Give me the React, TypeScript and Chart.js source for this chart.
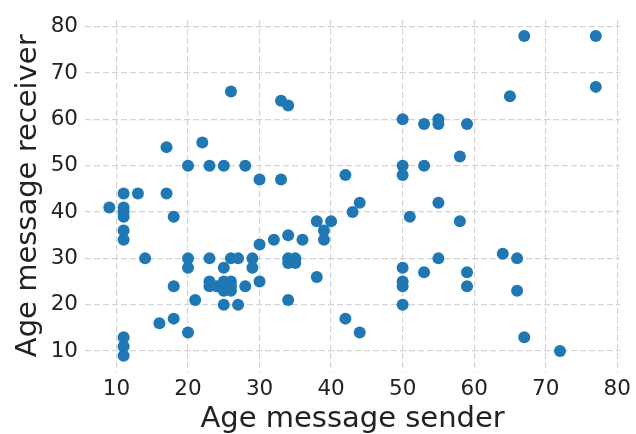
import React, { useEffect, useRef } from "react";
import { Chart, registerables } from "chart.js";

Chart.register(...registerables);

const senderAges: number[] = [
  9, 11, 11, 11, 11, 11, 11, 11, 11, 11, 13, 14, 16, 17, 17, 18, 18, 18, 20, 20,
  20, 20, 21, 22, 23, 23, 23, 23, 24, 25, 25, 25, 25, 25, 25, 26, 26, 26, 26, 26,
  27, 27, 28, 28, 29, 29, 30, 30, 30, 32, 33, 33, 34, 34, 34, 34, 34, 35, 35, 36,
  38, 38, 39, 39, 40, 42, 42, 43, 44, 44, 50, 50, 50, 50, 50, 50, 50, 51, 53, 53,
  53, 55, 55, 55, 55, 58, 58, 59, 59, 59, 64, 65, 66, 66, 67, 67, 72, 77, 77,
];
const receiverAges: number[] = [
  41, 44, 41, 40, 39, 36, 34, 13, 11, 9, 44, 30, 16, 54, 44, 39, 24, 17, 50, 30,
  28, 14, 21, 55, 50, 30, 25, 24, 24, 50, 28, 25, 24, 23, 20, 66, 30, 25, 24, 23,
  30, 20, 50, 24, 30, 28, 47, 33, 25, 34, 64, 47, 63, 35, 30, 29, 21, 30, 29, 34,
  38, 26, 36, 34, 38, 48, 17, 40, 42, 14, 60, 50, 48, 28, 25, 24, 20, 39, 59, 50,
  27, 60, 59, 42, 30, 52, 38, 59, 27, 24, 31, 65, 30, 23, 78, 13, 10, 78, 67,
];
const tickValues: number[] = [10, 20, 30, 40, 50, 60, 70, 80];
const xTitle = "Age message sender";
const yTitle = "Age message receiver";

export default function App() {
  const canvasRef = useRef<HTMLCanvasElement | null>(null);

  useEffect(() => {
    document.body.style.margin = "0";
    const canvas = canvasRef.current;
    if (!canvas) return;
    const points = senderAges.map((x, i) => ({ x, y: receiverAges[i] }));
    const gridOpts = {
      color: "#d4d4d4",
      lineWidth: 1.2,
      drawTicks: false,
    };
    const chart = new Chart(canvas, {
      type: "scatter",
      data: {
        datasets: [
          {
            data: points,
            backgroundColor: "#1f77b4",
            borderColor: "#1f77b4",
            borderWidth: 0,
            pointRadius: 6,
          },
        ],
      },
      options: {
        responsive: false,
        animation: false,
        events: [],
        layout: { padding: { top: 13.5, right: 12.4, left: 0, bottom: 0 } },
        plugins: { legend: { display: false }, tooltip: { enabled: false } },
        scales: {
          x: {
            type: "linear",
            min: 5.6,
            max: 80.4,
            border: { display: false, dash: [6, 3] },
            grid: gridOpts,
            afterBuildTicks: (scale: any) => {
              scale.ticks = tickValues.map((v) => ({ value: v }));
            },
            afterFit: (scale: any) => {
              scale.height = 62.3;
            },
            ticks: {
              padding: 5,
              color: "#222222",
              font: { family: "DejaVu Sans", size: 21.5 },
              maxRotation: 0,
              autoSkip: false,
            },
            title: {
              display: true,
              text: xTitle,
              color: "#222222",
              font: { family: "DejaVu Sans", size: 29, lineHeight: 1 },
              padding: { top: 0, bottom: 0 },
            },
          },
          y: {
            type: "linear",
            min: 5.55,
            max: 81.45,
            border: { display: false, dash: [6, 3] },
            grid: gridOpts,
            afterBuildTicks: (scale: any) => {
              scale.ticks = tickValues.map((v) => ({ value: v }));
            },
            afterFit: (scale: any) => {
              scale.width = 85;
            },
            ticks: {
              padding: 7,
              color: "#222222",
              font: { family: "DejaVu Sans", size: 21.5 },
              autoSkip: false,
            },
            title: {
              display: true,
              text: yTitle,
              color: "#222222",
              font: { family: "DejaVu Sans", size: 29, lineHeight: 1 },
              padding: { top: 14, bottom: 0 },
            },
          },
        },
      },
    } as any);
    return () => chart.destroy();
  }, []);

  return (
    <div style={{ width: 636, height: 434, background: "#fff" }}>
      <canvas ref={canvasRef} width={636} height={434} style={{ display: "block" }} />
    </div>
  );
}
